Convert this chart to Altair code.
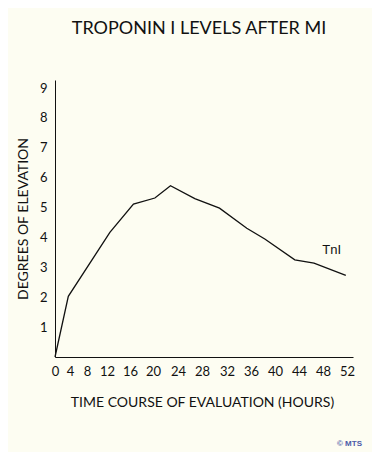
import altair as alt
import pandas as pd

# Data (hours, degrees of elevation)
hours = [0, 3.55, 12.5, 16.6, 20.3, 22.8, 26.8, 30.8, 35.3, 38.3, 43.3, 46.5, 51.8]
levels = [0, 2.03, 4.17, 5.12, 5.32, 5.73, 5.3, 4.98, 4.31, 3.95, 3.25, 3.14, 2.73]
x_ticks = [0, 4, 8, 12, 16, 20, 24, 28, 32, 36, 40, 44, 48, 52]
y_ticks = [1, 2, 3, 4, 5, 6, 7, 8, 9]
series_label = ["TnI"]
label_hour = [49.45]
label_level = [3.59]

# the reference's hour ticks are hand placed (not evenly spaced)
x_domain = x_ticks + [53]
x_range = [0, 15, 32, 52, 75, 98, 123, 147, 172, 196, 220, 244, 268, 292, 298]

df = pd.DataFrame({"hour": hours, "level": levels})
lab = pd.DataFrame({"hour": label_hour, "level": label_level, "text": series_label})

FONT = "Lato"
BG = "#fdfdf2"

xscale = alt.Scale(domain=x_domain, range=x_range)
yscale = alt.Scale(domain=[0, 9.27], nice=False, zero=True)

x_axis = alt.Axis(values=x_ticks, title="TIME COURSE OF EVALUATION (HOURS)",
                  ticks=False, grid=False, domainColor="#111111", domainWidth=1,
                  labelFont=FONT, labelFontSize=13, labelColor="#111111",
                  labelPadding=8, labelFlush=False, labelOverlap=False,
                  labelSeparation=0,
                  titleFont=FONT, titleFontSize=14, titleFontWeight="normal",
                  titleColor="#111111", titleBaseline="alphabetic",
                  titleY=49, titleX=147)
y_axis = alt.Axis(values=y_ticks, title="DEGREES OF ELEVATION",
                  ticks=False, grid=False, domainColor="#111111", domainWidth=1,
                  labelFont=FONT, labelFontSize=13, labelColor="#111111",
                  labelPadding=8, labelFlush=False, labelOverlap=False,
                  labelSeparation=0,
                  titleFont=FONT, titleFontSize=14, titleFontWeight="normal",
                  titleColor="#111111", titleBaseline="alphabetic",
                  titleX=-28)

line = alt.Chart(df).mark_line(color="#111111", strokeWidth=1.3).encode(
    x=alt.X("hour:Q", scale=xscale, axis=x_axis),
    y=alt.Y("level:Q", scale=yscale, axis=y_axis),
)

text = alt.Chart(lab).mark_text(font="Liberation Sans", fontSize=13, color="#111111",
                                align="center", baseline="middle").encode(
    x=alt.X("hour:Q", scale=xscale, axis=x_axis),
    y=alt.Y("level:Q", scale=yscale, axis=y_axis),
    text="text:N",
)

credit = alt.Chart(pd.DataFrame({"t": ["© MTS"]})).mark_text(
    font="Liberation Sans", fontSize=8, fontWeight="bold", color="#4a5aa8",
    align="right", baseline="middle").encode(
    x=alt.value(307), y=alt.value(364), text="t:N")

chart = alt.layer(line, text, credit).properties(
    width=298, height=277,
    title=alt.TitleParams("TROPONIN I LEVELS AFTER MI", font=FONT, fontSize=18,
                          fontWeight="normal", color="#111111", offset=42,
                          frame="group", dx=-5),
    autosize=alt.AutoSizeParams(type="none"),
    padding={"left": 47, "top": 72, "right": 19, "bottom": 95},
    background=BG,
).configure_view(stroke=None).configure_axis(labelOverlap=False)

chart.save("out.html", embed_options={"renderer": "svg", "actions": False})
